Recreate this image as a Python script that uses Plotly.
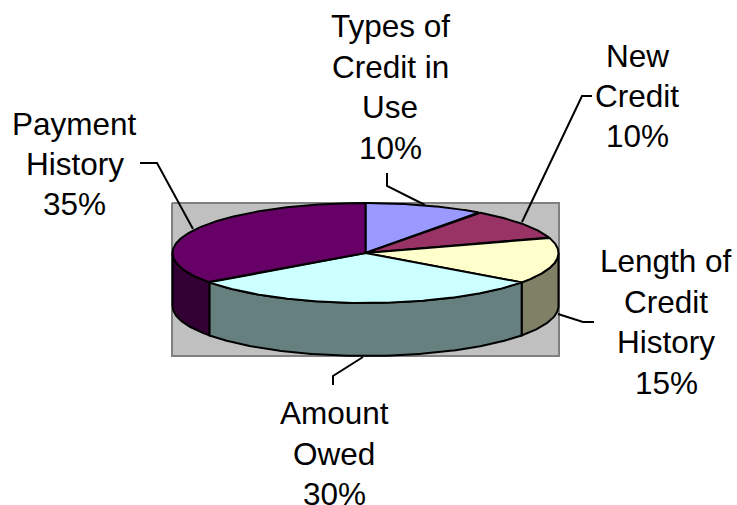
import numpy as np
import plotly.graph_objects as go

categories = ["Types of<br>Credit in<br>Use", "New<br>Credit", "Length of<br>Credit<br>History", "Amount<br>Owed", "Payment<br>History"]
shares = [10, 10, 15, 30, 35]
top_colors = ["#9999FF", "#993366", "#FFFFCC", "#CCFFFF", "#660066"]
side_colors = [None, None, "#808066", "#668080", "#330033"]

W, H = 737, 505
CX, CY, RX, RY, DEPTH = 365.5, 253, 193, 50, 53
LINE_STEP = 40.4
label_xy = [(390, 87), (637, 96), (666, 322), (334, 453.5), (74.5, 164)]
leaders = [
    [(387, 173), (387, 186), (425, 205)],
    [(592, 96), (582, 96), (522, 222)],
    [(558, 314), (583, 322), (594, 322)],
    [(363, 357), (333, 376), (333, 385)],
    [(140, 163), (157, 163), (193, 229)],
]

def pt(deg, dy=0.0):
    r = np.radians(deg)
    return CX + RX * np.sin(r), CY - RY * np.cos(r) + dy

def arc(a0, a1):
    n = max(2, int(abs(a1 - a0) * 2))
    return np.linspace(a0, a1, n)

fig = go.Figure()
BORDER = dict(color="black", width=2)

def poly(xs, ys, fill, line=BORDER):
    fig.add_trace(go.Scatter(x=list(xs), y=list(ys), mode="lines", fill="toself",
                             fillcolor=fill, line=line, hoverinfo="skip", showlegend=False))

# plot-area rectangle
poly([172, 559, 559, 172, 172], [203, 203, 356, 356, 203], "#C0C0C0",
     dict(color="#808080", width=2))

edges = np.cumsum([0] + shares) / sum(shares) * 360

# side walls of the front half
for i in range(len(shares)):
    a0, a1 = max(edges[i], 90), min(edges[i + 1], 270)
    if a1 <= a0:
        continue
    t = arc(a0, a1)
    xt, yt = pt(t)
    xb, yb = pt(t[::-1], DEPTH)
    poly(np.r_[xt, xb, xt[0]], np.r_[yt, yb, yt[0]], side_colors[i])

# top wedges
for i in range(len(shares)):
    t = arc(edges[i], edges[i + 1])
    xt, yt = pt(t)
    poly(np.r_[CX, xt, CX], np.r_[CY, yt, CY], top_colors[i])

# leader lines
for seg in leaders:
    xs, ys = zip(*seg)
    fig.add_trace(go.Scatter(x=xs, y=ys, mode="lines", line=BORDER,
                             hoverinfo="skip", showlegend=False))

for name, val, (x, y) in zip(categories, shares, label_xy):
    lines = name.split("<br>") + [f"{val}%"]
    for k, txt in enumerate(lines):
        fig.add_annotation(x=x, y=y + (k - (len(lines) - 1) / 2) * LINE_STEP, text=txt,
                           showarrow=False, xanchor="center", yanchor="middle", align="center",
                           font=dict(family="Liberation Sans, Arial, sans-serif", size=31.5, color="black"))

fig.update_layout(
    width=W, height=H, margin=dict(l=0, r=0, t=0, b=0),
    paper_bgcolor="white", plot_bgcolor="white", showlegend=False,
    xaxis=dict(range=[0, W], visible=False, fixedrange=True),
    yaxis=dict(range=[H, 0], visible=False, fixedrange=True),
)
fig.write_html("out.html", config={"displayModeBar": False},
               post_script="document.body.style.margin='0';document.body.style.overflow='hidden';")
